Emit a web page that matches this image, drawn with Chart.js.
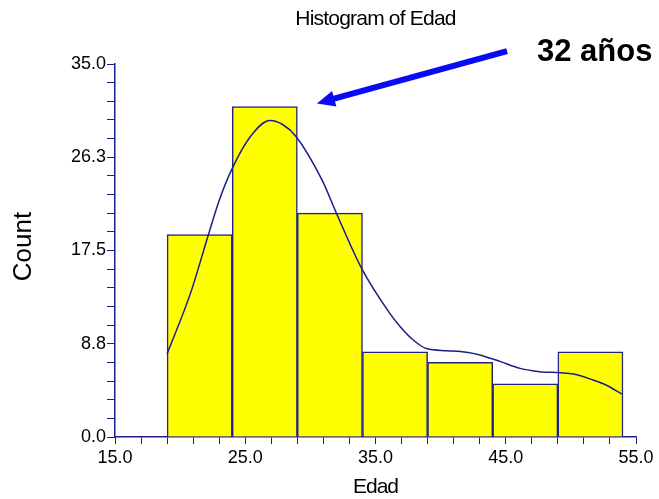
<!DOCTYPE html>
<html>
<head>
<meta charset="utf-8">
<script src="https://cdn.jsdelivr.net/npm/chart.js@4/dist/chart.umd.min.js"></script>
<style>
  body { margin: 0; background: #fff; }
  #wrap { width: 659px; height: 499px; }
</style>
</head>
<body>
<div id="wrap"><canvas id="canvas1"></canvas></div>
<script>
// histogram bins of Edad (bin centres, width 5)
var binCenters = [21.5, 26.5, 31.5, 36.5, 41.5, 46.5, 51.5];
var binCounts = [19, 31, 21, 8, 7, 5, 8];

// density curve
var curveX = [19.0, 20.8, 22.2, 23.0, 24.0, 25.4, 26.9, 27.9, 28.9, 30.9, 32.0, 33.9, 36.1, 36.9, 37.9, 38.9, 40.5, 42.0, 43.0, 44.6, 46.1, 47.6, 49.2, 50.2, 51.7, 52.7, 53.9];
var curveY = [7.8, 13.5, 19.1, 22.2, 25.2, 28.2, 29.7, 29.3, 28.2, 24.1, 21.0, 15.9, 11.6, 10.35, 9.1, 8.3, 8.1, 7.95, 7.7, 7.07, 6.44, 6.13, 6.03, 5.91, 5.35, 4.88, 4.03];

var xTickLabels = ['15.0', '25.0', '35.0', '45.0', '55.0'];
var yTickLabels = ['0.0', '8.8', '17.5', '26.3', '35.0'];

// annotation in data units: arrow from/to and label
var arrowFrom = [45.1, 36.2];
var arrowTo = [30.5, 31.3];
var noteText = '32 años';
var notePos = [47.4, 35.3];

var navy = '#1c1c8a';

var curveData = curveX.map(function(x, i) { return { x: x, y: curveY[i] }; });
var barData = binCenters.map(function(x, i) { return { x: x, y: binCounts[i] }; });

var textPlugin = {
    id: 'texts',
    afterDraw: function(chart) {
        var ctx = chart.ctx;
        var area = chart.chartArea;
        var xs = chart.scales.x;
        var ys = chart.scales.y;
        var cx = (area.left + area.right) / 2;
        ctx.save();
        ctx.fillStyle = '#000';
        ctx.textAlign = 'center';
        ctx.textBaseline = 'alphabetic';

        ctx.font = '21px "Liberation Sans", Arial, sans-serif';
        ctx.letterSpacing = '-0.8px';
        ctx.fillText('Histogram of Edad', cx, 25);

        ctx.letterSpacing = '-1px';
        ctx.fillText('Edad', cx, 493);

        ctx.letterSpacing = '0px';
        ctx.font = '26px "Liberation Sans", Arial, sans-serif';
        ctx.save();
        ctx.translate(31, (area.top + area.bottom) / 2 - 4);
        ctx.rotate(-Math.PI / 2);
        ctx.fillText('Count', 0, 0);
        ctx.restore();

        // arrow
        var x1 = xs.getPixelForValue(arrowFrom[0]), y1 = ys.getPixelForValue(arrowFrom[1]);
        var x2 = xs.getPixelForValue(arrowTo[0]), y2 = ys.getPixelForValue(arrowTo[1]);
        var ang = Math.atan2(y2 - y1, x2 - x1);
        var headLen = 18, headW = 8;
        var bx = x2 - headLen * Math.cos(ang), by = y2 - headLen * Math.sin(ang);
        ctx.strokeStyle = '#0a0af5';
        ctx.fillStyle = '#0a0af5';
        ctx.lineWidth = 6;
        ctx.beginPath();
        ctx.moveTo(x1, y1);
        ctx.lineTo(bx + 2 * Math.cos(ang), by + 2 * Math.sin(ang));
        ctx.stroke();
        ctx.beginPath();
        ctx.moveTo(x2, y2);
        ctx.lineTo(bx + headW * Math.sin(ang), by - headW * Math.cos(ang));
        ctx.lineTo(bx - headW * Math.sin(ang), by + headW * Math.cos(ang));
        ctx.closePath();
        ctx.fill();

        ctx.fillStyle = '#000';
        ctx.textAlign = 'left';
        ctx.font = 'bold 31px "Liberation Sans", Arial, sans-serif';
        ctx.fillText(noteText, xs.getPixelForValue(notePos[0]), ys.getPixelForValue(notePos[1]));
        ctx.restore();
    }
};

var config1 = {
    type: 'bar',
    data: {
        datasets: [{
            type: 'line',
            data: curveData,
            xAxisID: 'x',
            borderColor: navy,
            borderWidth: 1.5,
            pointRadius: 0,
            fill: false,
            cubicInterpolationMode: 'monotone',
            order: 0
        }, {
            type: 'bar',
            data: barData,
            xAxisID: 'xb',
            backgroundColor: '#ffff00',
            borderColor: '#22228a',
            borderWidth: 1.5,
            barPercentage: 1,
            categoryPercentage: 1,
            grouped: false,
            order: 1
        }]
    },
    options: {
        responsive: true,
        maintainAspectRatio: false,
        animation: false,
        layout: { padding: { left: 0, top: 64, right: 23, bottom: 0 } },
        plugins: {
            legend: { display: false },
            title: { display: false },
            tooltip: { enabled: false }
        },
        scales: {
            x: {
                type: 'linear',
                min: 15,
                max: 55,
                offset: false,
                grid: { display: true, drawOnChartArea: false, drawTicks: true, tickLength: 7, color: navy, offset: false },
                border: { display: true, color: navy, width: 1.5 },
                ticks: {
                    stepSize: 2,
                    autoSkip: false,
                    maxRotation: 0,
                    padding: 3,
                    color: '#000',
                    font: { family: '"Liberation Sans", Arial, sans-serif', size: 18 },
                    callback: function(v, i) { return i % 5 === 0 ? xTickLabels[i / 5] : ''; }
                },
                afterFit: function(scale) { scale.height = 62; }
            },
            xb: {
                type: 'linear',
                display: false,
                min: 15,
                max: 55,
                offset: false,
                ticks: { stepSize: 5 }
            },
            y: {
                type: 'linear',
                min: 0,
                max: 35,
                grid: { display: true, drawOnChartArea: false, drawTicks: true, tickLength: 8, color: navy },
                border: { display: true, color: navy, width: 1.5 },
                ticks: {
                    stepSize: 1.75,
                    autoSkip: false,
                    padding: 1,
                    color: '#000',
                    font: { family: '"Liberation Sans", Arial, sans-serif', size: 18 },
                    callback: function(v, i) { return i % 5 === 0 ? yTickLabels[i / 5] : ''; }
                },
                afterFit: function(scale) { scale.width = 115; }
            }
        }
    },
    plugins: [textPlugin]
};

function loadHistogram() {
    var ctx = document.getElementById('canvas1').getContext('2d');
    window.myHistogram = new Chart(ctx, config1);
}
loadHistogram();
</script>
</body>
</html>
